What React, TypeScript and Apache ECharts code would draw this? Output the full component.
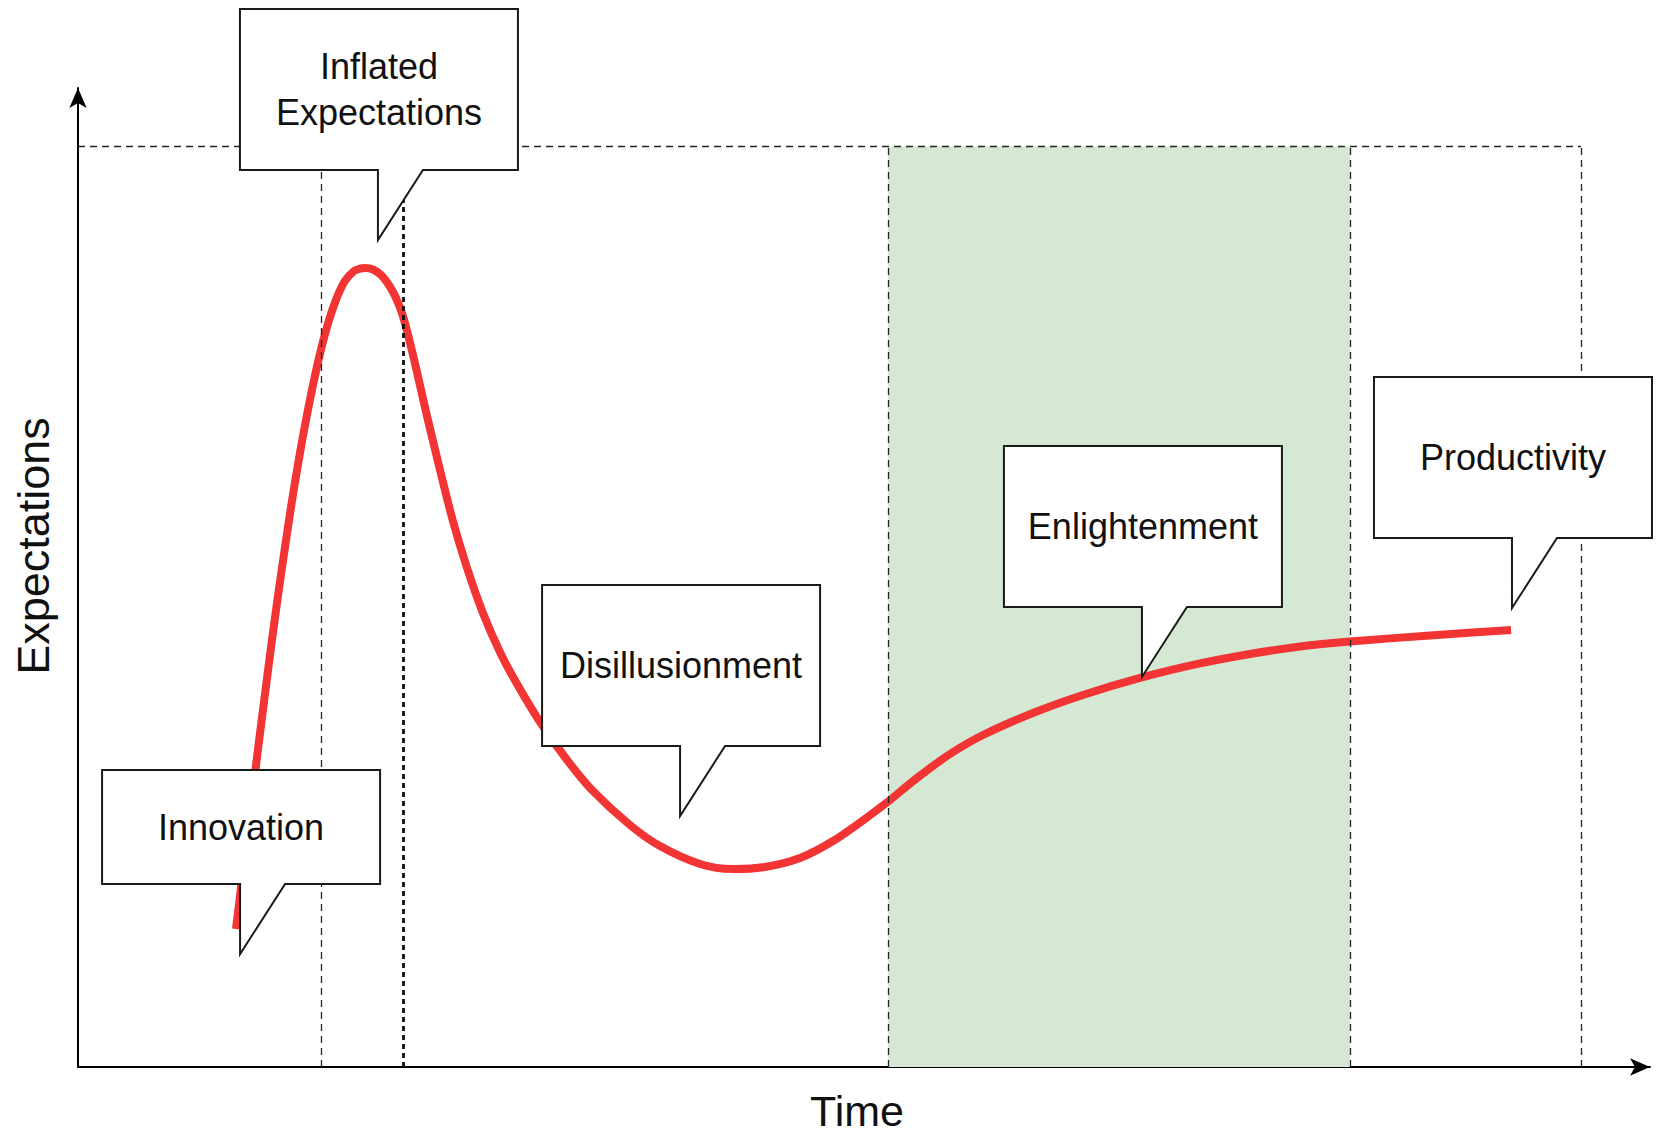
import React, { useEffect, useRef } from 'react';
import * as echarts from 'echarts';

// Hype-cycle curve (x: time 0-100, y: expectations 0-100)
const curveX = [
  10.05, 10.43, 10.81, 11.2, 11.58, 11.96, 12.34, 12.72, 13.17, 13.61, 14.12, 14.69, 15.27, 15.84, 16.41, 16.98, 17.56, 17.94, 18.26,
  18.77, 19.27, 19.78, 20.23, 20.67, 21.31, 22.2, 23.03, 23.85, 24.75, 25.76, 26.84, 27.93, 29.39, 31.11, 32.76, 35.11, 37.02, 39.57, 41.67,
  43.7, 45.93, 48.03, 50.19, 51.46, 53.37, 55.47, 57.57, 60.75, 63.93, 67.68, 71.37, 74.55, 77.74, 80.92, 86.01, 91.16,
];
const curveY = [
  14.1, 19.1, 24.21, 29.21, 34.12, 38.92, 43.62, 48.11, 53.12, 57.81, 62.72, 67.62, 72.01, 75.59, 78.35, 80.29, 81.31, 81.56, 81.61,
  81.46, 80.9, 79.88, 78.55, 76.71, 72.73, 66.5, 60.98, 55.77, 50.97, 46.37, 42.39, 39.12, 35.24, 31.36, 28.19, 24.72, 22.57, 20.74, 20.22,
  20.43, 21.35, 23.08, 25.49, 27.02, 29.52, 31.97, 33.91, 36.16, 38.0, 39.79, 41.22, 42.19, 42.95, 43.46, 44.08, 44.64,
];

// Phase boundaries (dashed verticals) and frame top
const phaseBoundsX = [15.46, 20.67, 51.53, 80.92, 95.61];
const frameTopY = 94.0;
const bandX = [51.53, 80.92];

// Callouts: label and tip point in data coordinates
const calloutLabels = ['Innovation', 'Inflated\nExpectations', 'Disillusionment', 'Enlightenment', 'Productivity'];
const calloutTipX = [10.31, 19.08, 38.3, 67.68, 91.22];
const calloutTipY = [11.54, 84.47, 25.64, 39.84, 46.88];

const axisNames = ['Time', 'Expectations'];

const FONT = "'Liberation Sans', Arial, Helvetica, sans-serif";
const BOX_W = 278;
const BOX_H = [114, 161, 161, 161, 161];
const TAIL_H = 70;
const TAIL_W = 45;

export default function App() {
  const ref = useRef<HTMLDivElement>(null);

  useEffect(() => {
    document.body.style.margin = '0';
    if (!ref.current) return;
    const chart = echarts.init(ref.current, undefined, { renderer: 'svg' });

    const thinDash = { color: '#222', width: 1.3, type: [7, 5] as any };
    const thickDot = { color: '#111', width: 2.8, type: [5, 4] as any };

    const vLines = phaseBoundsX.map((x, i) => [
      { coord: [x, 0], lineStyle: i === 1 ? thickDot : thinDash },
      { coord: [x, frameTopY] },
    ]);
    const topLine = [
      { coord: [0, frameTopY], lineStyle: thinDash },
      { coord: [phaseBoundsX[phaseBoundsX.length - 1], frameTopY] },
    ];

    const option: any = {
      animation: false,
      backgroundColor: '#ffffff',
      grid: { left: 78, right: 11, top: 88, bottom: 70, containLabel: false, outerBoundsMode: 'none' },
      xAxis: {
        type: 'value',
        min: 0,
        max: 100,
        name: axisNames[0],
        nameLocation: 'middle',
        nameGap: 24,
        nameTextStyle: { fontSize: 43, lineHeight: 40, fontFamily: FONT, color: '#111', padding: [0, 14, 0, 0] },
        axisLine: { show: true, symbol: ['none', 'arrow'], symbolSize: [13, 20], lineStyle: { color: '#000', width: 2 } },
        axisTick: { show: false },
        axisLabel: { show: false },
        splitLine: { show: false },
      },
      yAxis: {
        type: 'value',
        min: 0,
        max: 100,
        name: axisNames[1],
        nameLocation: 'middle',
        nameGap: 22,
        nameTextStyle: { fontSize: 45, fontFamily: FONT, color: '#111', padding: [0, 0, 0, 63] },
        axisLine: { show: true, symbol: ['none', 'arrow'], symbolSize: [13, 20], lineStyle: { color: '#000', width: 2 } },
        axisTick: { show: false },
        axisLabel: { show: false },
        splitLine: { show: false },
      },
      series: [
        {
          type: 'line',
          z: 1,
          data: [],
          silent: true,
          markArea: {
            silent: true,
            itemStyle: { color: '#d5e8d4' },
            data: [[{ coord: [bandX[0], 0] }, { coord: [bandX[1], frameTopY] }]],
          },
        },
        {
          type: 'line',
          z: 2,
          data: curveX.map((x, i) => [x, curveY[i]]),
          smooth: 0.3,
          showSymbol: false,
          silent: true,
          lineStyle: { color: '#f23434', width: 8, cap: 'butt' },
        },
        {
          type: 'line',
          z: 3,
          data: [],
          silent: true,
          markLine: {
            silent: true,
            symbol: ['none', 'none'],
            label: { show: false },
            data: [...vLines, topLine],
          },
        },
        {
          type: 'custom',
          z: 5,
          coordinateSystem: 'cartesian2d',
          clip: false,
          silent: true,
          data: calloutTipX.map((x, i) => [x, calloutTipY[i], i]),
          renderItem: (params: any, api: any) => {
            const i = api.value(2);
            const tip = api.coord([api.value(0), api.value(1)]);
            const h = BOX_H[i];
            const cx = tip[0] + 1;
            const bottom = tip[1] - TAIL_H;
            const top = bottom - h;
            const left = cx - BOX_W / 2;
            const right = cx + BOX_W / 2;
            return {
              type: 'group',
              children: [
                {
                  type: 'polygon',
                  shape: {
                    points: [
                      [left, top],
                      [right, top],
                      [right, bottom],
                      [tip[0] + TAIL_W, bottom],
                      [tip[0], tip[1]],
                      [tip[0], bottom],
                      [left, bottom],
                    ],
                  },
                  style: { fill: '#ffffff', stroke: '#1a1a1a', lineWidth: 2 },
                },
                {
                  type: 'text',
                  x: cx,
                  y: top + h / 2,
                  style: {
                    text: calloutLabels[i],
                    fill: '#111',
                    fontSize: 36,
                    fontFamily: FONT,
                    align: 'center',
                    verticalAlign: 'middle',
                    lineHeight: 46,
                  },
                },
              ],
            };
          },
        },
      ],
    };

    chart.setOption(option);
    return () => chart.dispose();
  }, []);

  return <div ref={ref} style={{ width: 1661, height: 1137 }} />;
}
